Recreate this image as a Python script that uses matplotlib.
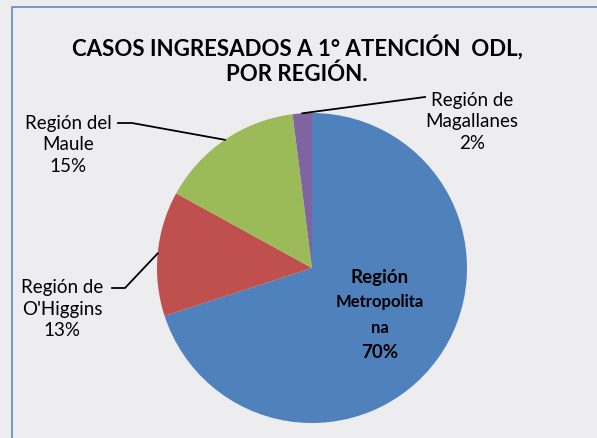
import numpy as np
import matplotlib.pyplot as plt

regions = ["Región\nMetropolita\nna", "Región de\nO'Higgins", "Región del\nMaule", "Región de\nMagallanes"]
shares = [70, 13, 15, 2]
colors = ["#4F81BD", "#C0504D", "#9BBB59", "#8064A2"]

plt.rcParams['font.family'] = ['Lato', 'DejaVu Sans']

W, H = 597, 438
fig = plt.figure(figsize=(W / 100, H / 100), dpi=100)
fig.patch.set_facecolor("#EDEDEF")
ax = fig.add_axes([0, 0, 1, 1])

# chart border (only left and top visible in the crop)
ax.plot([12, 12, W + 5], [-5, H - 7, H - 7], color="#5B8BC9", lw=1.2)

cx, cy, r = 312, H - 268, 155
wedges, _ = ax.pie(shares, colors=colors, startangle=90, counterclock=False,
                   center=(cx, cy), radius=r, frame=True,
                   wedgeprops=dict(linewidth=0))
ax.set_xlim(0, W)
ax.set_ylim(0, H)
ax.set_aspect("equal")
ax.axis("off")

ax.text(297, H - 47, "CASOS INGRESADOS A 1° ATENCIÓN  ODL,", ha="center", va="center",
        fontsize=16, fontweight="bold")
ax.text(297, H - 74, "POR REGIÓN.", ha="center", va="center",
        fontsize=16, fontweight="bold")

def edge_point(w):
    a = np.deg2rad((w.theta1 + w.theta2) / 2)
    return cx + r * np.cos(a), cy + r * np.sin(a)

# outside labels: text centre, elbow points of the leader
outside = {
    1: ((62, H - 309), [(112, H - 288), (125, H - 288)]),
    2: ((68, H - 145), [(118, H - 123), (132, H - 123)]),
    3: ((472, H - 122), [(425, H - 97)]),
}
for i, (pos, elbow) in outside.items():
    ax.text(pos[0], pos[1], f"{regions[i]}\n{shares[i]}%", ha="center", va="center",
            fontsize=13.5, linespacing=1.35)
    px, py = edge_point(wedges[i])
    xs = [p[0] for p in elbow] + [px]
    ys = [p[1] for p in elbow] + [py]
    ax.plot(xs, ys, color="black", lw=1.3)

lines = regions[0].split("\n")
ax.text(380, H - 278, lines[0], ha="center", va="center", fontsize=13.5, fontweight="bold")
ax.text(380, H - 302, lines[1], ha="center", va="center", fontsize=12, fontweight="bold")
ax.text(380, H - 328, lines[2], ha="center", va="center", fontsize=12, fontweight="bold")
ax.text(380, H - 353, f"{shares[0]}%", ha="center", va="center", fontsize=13.5, fontweight="bold")

fig.savefig("out.png", dpi=100, facecolor=fig.get_facecolor())
